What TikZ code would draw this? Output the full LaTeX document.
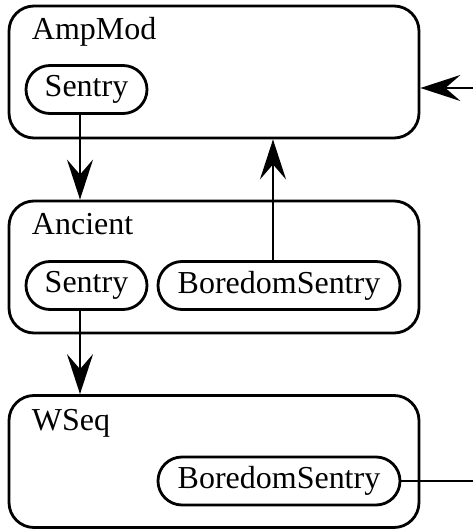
\documentclass[tikz,border=0pt]{standalone}
\usepackage{fontspec}
\setmainfont{Liberation Serif}
\usetikzlibrary{arrows.meta}

\begin{document}
\begin{tikzpicture}[line width=1.6pt,
  font=\fontsize{18.2}{21}\selectfont,
  module/.style={draw,rounded corners=0.5cm,minimum width=8.2cm,minimum height=2.64cm},
  title/.style={anchor=base west,inner sep=0pt},
  sentry/.style={draw,rounded corners=0.48cm,minimum height=0.96cm,inner sep=0pt},
  link/.style={-{Stealth[length=0.8cm,width=0.52cm,inset=0.3cm]}}]

\useasboundingbox (0,0) rectangle (9.46,10.58);

% Modules, top to bottom.
\node [module] (ampmod) at (4.28,9.14) {};
\node [module] (ancient) at (4.28,5.24) {};
\node [module] (wseq) at (4.28,1.35) {};

\node [title] at ([shift={(0.46,-0.7)}]ampmod.north west) {AmpMod};
\node [title] at ([shift={(0.46,-0.7)}]ancient.north west) {Ancient};
\node [title] at ([shift={(0.46,-0.72)}]wseq.north west) {WSeq};

% Sentries inside the modules.
\node [sentry,minimum width=2.42cm] (sentryA) at (1.73,8.79) {Sentry};
\node [sentry,minimum width=2.42cm] (sentryB) at (1.73,4.87) {Sentry};
\node [sentry,minimum width=4.84cm] (boredB) at (5.58,4.87) {BoredomSentry};
\node [sentry,minimum width=4.84cm] (boredW) at (5.58,0.96) {BoredomSentry};

% Wiring between the modules.
\draw[link] ([xshift=-0.13cm]sentryA.south) -- ([xshift=-0.13cm]sentryA.south |- ancient.north);
\draw[link] ([xshift=-0.13cm]sentryB.south) -- ([xshift=-0.13cm]sentryB.south |- wseq.north);
\draw[link] ([xshift=-0.12cm]boredB.north) -- ([xshift=-0.12cm]boredB.north |- ampmod.south);

% Loose ends off to the right.
\coordinate (feedin) at (9.46,8.82);
\coordinate (feedout) at (9.46,0.96);
\draw[link] (feedin) -- (feedin -| ampmod.east);
\draw (boredW.east) -- (boredW.east -| feedout);

\end{tikzpicture}
\end{document}
